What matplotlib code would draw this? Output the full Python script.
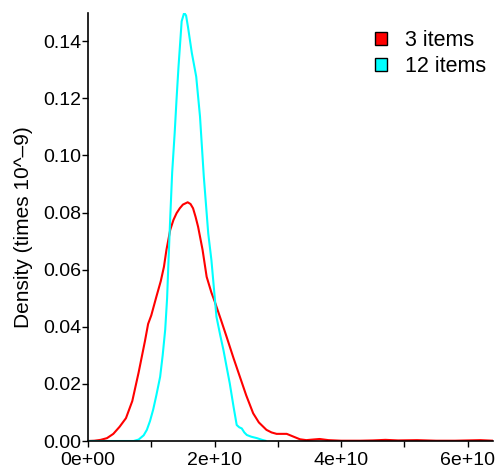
import numpy as np
import matplotlib
matplotlib.use('Agg')
import matplotlib.pyplot as plt
from matplotlib.patches import Patch

plt.rcParams['font.family'] = ['Liberation Sans', 'DejaVu Sans']

# density curves (x in units of 1e10, y in units of 1e-9)
red_x = [0, 0.1, 0.2, 0.3, 0.4, 0.5, 0.6, 0.7, 0.8, 0.9, 0.95, 1.0, 1.08, 1.15, 1.2, 1.24,
         1.3, 1.35, 1.4, 1.45, 1.5, 1.575, 1.62, 1.66, 1.7, 1.74, 1.81, 1.875, 1.95, 2.0,
         2.1, 2.19, 2.3, 2.4, 2.5, 2.61, 2.7, 2.82, 2.9, 2.98, 3.06, 3.14, 3.25, 3.35,
         3.45, 3.55, 3.66, 3.8, 4.0, 4.3, 4.5, 4.7, 4.9, 5.2, 5.5, 5.8, 6.0, 6.2, 6.4]
red_y = [0, 0.0001, 0.0004, 0.001, 0.0025, 0.005, 0.008, 0.014, 0.024, 0.035, 0.041,
         0.044, 0.0505, 0.056, 0.061, 0.067, 0.074, 0.0774, 0.0798, 0.0815, 0.0828,
         0.0836, 0.083, 0.0815, 0.0785, 0.075, 0.067, 0.0575, 0.052, 0.049, 0.0425,
         0.0365, 0.029, 0.0225, 0.016, 0.0097, 0.0065, 0.0039, 0.003, 0.0025, 0.0025,
         0.0025, 0.0015, 0.0006, 0.0003, 0.0005, 0.0007, 0.0003, 0.0001, 0.0001, 0.0002,
         0.0004, 0.0002, 0.0003, 0.0001, 0.0001, 0.0002, 0.0003, 0.0001]

cyan_x = [0, 0.5, 0.72, 0.8, 0.88, 0.93, 0.98, 1.03, 1.08, 1.14, 1.18, 1.22, 1.25, 1.27,
          1.3, 1.33, 1.37, 1.4, 1.43, 1.48, 1.52, 1.55, 1.58, 1.64, 1.71, 1.77, 1.83,
          1.9, 1.95, 2.03, 2.09, 2.14, 2.19, 2.24, 2.3, 2.35, 2.39, 2.43, 2.47, 2.51,
          2.58, 2.67, 2.75, 2.82]
cyan_y = [0, 0, 0, 0.0005, 0.002, 0.0039, 0.007, 0.011, 0.016, 0.0225, 0.03, 0.039,
          0.05, 0.062, 0.0785, 0.094, 0.108, 0.12, 0.131, 0.147, 0.150, 0.149, 0.145,
          0.136, 0.1276, 0.1136, 0.0926, 0.0727, 0.0634, 0.0435, 0.037, 0.0319, 0.026,
          0.0202, 0.012, 0.0056, 0.0048, 0.0044, 0.003, 0.0021, 0.0015, 0.001, 0.0004, 0]

labels = ['3 items', '12 items']
colors = ['#ff0000', '#00ffff']
y_ticks = [0.00, 0.02, 0.04, 0.06, 0.08, 0.10, 0.12, 0.14]
x_ticks = [0, 1e10, 2e10, 3e10, 4e10, 5e10, 6e10]
x_ticklabels = ['0e+00', '', '2e+10', '', '4e+10', '', '6e+10']

fig = plt.figure(figsize=(4.97, 4.73), dpi=100)
ax = fig.add_axes([88 / 497, 32 / 473, 405 / 497, 428.3 / 473])

ax.plot(np.array(red_x) * 1e10, red_y, color=colors[0], lw=1.5, solid_capstyle='butt')
ax.plot(np.array(cyan_x) * 1e10, cyan_y, color=colors[1], lw=1.5, solid_capstyle='butt')

ax.set_xlim(0, 6.4e10)
ax.set_ylim(0, 0.15)
ax.set_xticks(x_ticks)
ax.set_xticklabels(x_ticklabels)
ax.set_yticks(y_ticks)
ax.set_yticklabels([f'{v:.2f}' for v in y_ticks])
ax.tick_params(length=4, width=1, labelsize=14, color='black')
ax.tick_params(axis='y', pad=1)
ax.tick_params(axis='x', pad=4)

for side in ['top', 'right']:
    ax.spines[side].set_visible(False)
for side in ['left', 'bottom']:
    ax.spines[side].set_linewidth(1.2)

ax.set_ylabel('Density (times 10^\u20139)', fontsize=15, labelpad=7)

handles = [Patch(facecolor=c, edgecolor='black', lw=1) for c in colors]
fig.legend(handles, labels, loc='upper left', bbox_to_anchor=(375 / 497, 1 - 30 / 473),
           frameon=False, fontsize=15.5, handlelength=0.56, handleheight=0.56,
           handletextpad=0.85, labelspacing=0.25, borderpad=0, borderaxespad=0)

fig.savefig('out.png', dpi=100)
